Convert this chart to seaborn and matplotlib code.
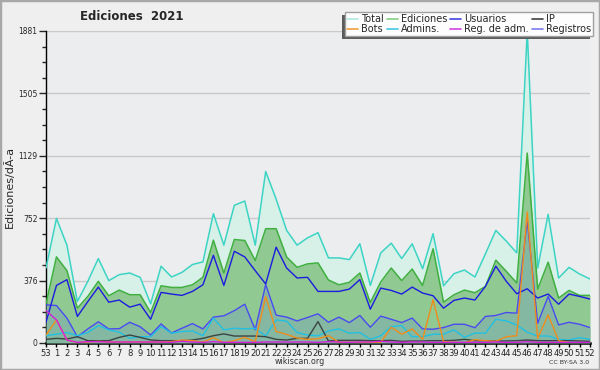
import numpy as np
import pandas as pd
import matplotlib
matplotlib.use('Agg')
import matplotlib.pyplot as plt
import seaborn as sns
from matplotlib.lines import Line2D
from matplotlib.patches import Rectangle

# week labels, 2021 starts with week 53 of 2020
weeks = ['53'] + [str(w) for w in range(1, 53)]

total = [452, 751, 590, 250, 372, 509, 376, 412, 422, 396, 236, 463, 398, 426, 473, 489,
         780, 590, 830, 856, 590, 1034, 867, 679, 590, 634, 665, 513, 513, 503, 598, 347,
         543, 602, 509, 598, 448, 659, 345, 418, 440, 398, 537, 679, 614, 543, 1881, 452,
         776, 392, 456, 416, 386]
ediciones = [236, 519, 436, 210, 281, 372, 285, 319, 291, 291, 184, 345, 335, 335, 351, 396,
             620, 422, 624, 618, 497, 689, 689, 519, 456, 477, 483, 380, 351, 366, 422, 244,
             368, 452, 376, 446, 347, 568, 246, 291, 319, 303, 341, 499, 432, 362, 1145, 325,
             487, 271, 317, 287, 287]
usuarios = [125, 347, 382, 160, 250, 337, 246, 259, 216, 234, 143, 305, 295, 287, 311, 351,
            529, 347, 553, 519, 436, 356, 578, 452, 392, 396, 311, 311, 311, 325, 382, 204,
            331, 317, 295, 337, 301, 285, 210, 257, 271, 259, 341, 463, 372, 297, 327, 271,
            295, 234, 295, 281, 265]
ip = [22, 28, 24, 38, 14, 14, 14, 34, 48, 34, 18, 14, 14, 14, 18, 28,
      44, 55, 42, 42, 42, 38, 22, 18, 28, 28, 129, 12, 16, 16, 16, 14,
      14, 16, 10, 12, 12, 14, 14, 16, 22, 14, 14, 12, 12, 14, 18, 14,
      14, 14, 14, 12, 10]
bots = [48, 139, 18, 2, 6, 10, 6, 6, 6, 6, 6, 6, 8, 18, 14, 6,
        32, 2, 14, 34, 8, 281, 69, 52, 30, 22, 25, 44, 4, 4, 4, 4,
        4, 95, 53, 85, 22, 261, 8, 4, 2, 20, 14, 10, 38, 44, 790, 28,
        170, 14, 2, 2, 2]
admins = [44, 53, 63, 44, 63, 105, 79, 65, 28, 38, 38, 99, 59, 69, 73, 44,
          150, 79, 89, 85, 89, 42, 139, 132, 63, 48, 44, 73, 85, 59, 63, 22,
          44, 99, 105, 38, 38, 53, 53, 79, 34, 60, 59, 143, 133, 109, 65, 42,
          42, 22, 18, 32, 22]
reg_adm = [196, 139, 18, 4, 8, 8, 6, 6, 6, 6, 6, 6, 4, 10, 6, 4,
           8, 4, 4, 4, 4, 6, 6, 6, 6, 6, 4, 8, 6, 4, 6, 6,
           10, 6, 4, 6, 6, 4, 4, 4, 4, 4, 4, 6, 4, 4, 8, 4,
           4, 4, 4, 4, 4]
registros = [230, 226, 150, 38, 85, 128, 85, 86, 125, 98, 48, 115, 60, 89, 117, 85,
             156, 164, 195, 234, 80, 352, 168, 156, 133, 154, 176, 125, 156, 123, 166, 95,
             162, 143, 123, 150, 85, 83, 93, 113, 113, 92, 160, 166, 184, 180, 740, 119,
             281, 109, 125, 113, 93]

ymax = 1881

df = pd.DataFrame({
    'pos': np.arange(len(weeks)),
    'Total': total, 'Ediciones': ediciones, 'Usuarios': usuarios, 'IP': ip,
    'Bots': bots, 'Admins.': admins, 'Reg. de adm.': reg_adm, 'Registros': registros,
})

sns.set_style('white', rc={'axes.facecolor': '#ecedef', 'figure.facecolor': '#efefef'})
plt.rcParams['font.family'] = ['DejaVu Sans']

fig = plt.figure(figsize=(6, 3.7), dpi=100)
ax = fig.add_axes([46 / 600, 27 / 370, 544 / 600, 312 / 370])

# filled areas
ax.fill_between(df['pos'], df['Total'], color='#d7f1e9', lw=0, zorder=1)
ax.fill_between(df['pos'], df['Ediciones'], color='#90c992', lw=0, zorder=2)
ax.fill_between(df['pos'], df['Registros'], color='#84b8a2', lw=0, zorder=3)

line_colors = {
    'Total': ('#3cd4c4', 1.1),
    'Ediciones': ('#3faf3f', 1.1),
    'Registros': ('#4a4af2', 1.0),
    'Usuarios': ('#1c1ce0', 1.0),
    'Admins.': ('#22c0e2', 1.0),
    'IP': ('#3c4444', 1.0),
    'Bots': ('#f08c1c', 1.0),
    'Reg. de adm.': ('#d420dc', 1.0),
}
for z, (name, (col, lw)) in enumerate(line_colors.items()):
    sns.lineplot(data=df, x='pos', y=name, color=col, lw=lw, ax=ax,
                 estimator=None, sort=False, zorder=5 + z)

ax.set_xlim(0, len(weeks) - 1)
ax.set_ylim(0, ymax)
ax.set_xlabel('')
ax.set_ylabel('Ediciones/dÃ-a', fontsize=8)
ax.yaxis.set_label_coords(-0.057, 0.5)

ax.set_xticks(df['pos'])
ax.set_xticklabels(weeks, fontsize=6)
major = np.linspace(0, ymax, 6)
ax.set_yticks(major)
ax.set_yticklabels([f'{v:.0f}' for v in major], fontsize=5.5)
ax.set_yticks(np.linspace(0, ymax, 21), minor=True)
ax.tick_params(axis='x', length=3, width=1, pad=1, color='black', bottom=True)
ax.tick_params(axis='y', which='major', length=5, width=1, pad=1, left=True)
ax.tick_params(axis='y', which='minor', length=3, width=1, left=True)
ax.grid(axis='y', which='major', color='#c9c9c9', lw=1)
ax.grid(axis='x', visible=False)
ax.set_axisbelow(True)

for side in ['top', 'right']:
    ax.spines[side].set_visible(False)
ax.spines['left'].set_color('black')
ax.spines['left'].set_linewidth(1)
ax.spines['bottom'].set_color('black')
ax.spines['bottom'].set_linewidth(1.8)

fig.text(132 / 600, 1 - 16.5 / 370, 'Ediciones  2021', ha='center', va='center',
         fontweight='bold', fontsize=8.5)
fig.text(300 / 600, 1 - 361 / 370, 'wikiscan.org', ha='center', va='center',
         fontsize=5.8, color='#333333')
fig.text(569 / 600, 1 - 362 / 370, 'CC BY-SA 3.0', ha='center', va='center',
         fontsize=4.5, color='#333333')

legend_items = [
    ('Total', '#aee8df'), ('Bots', '#f0a040'),
    ('Ediciones', '#86d086'), ('Admins.', '#44c8e2'),
    ('Usuarios', '#4444e2'), ('Reg. de adm.', '#d444e0'),
    ('IP', '#404040'), ('Registros', '#7c7cf0'),
]
handles = [Line2D([], [], color=c, lw=1.2) for _, c in legend_items]
leg = fig.legend(handles, [n for n, _ in legend_items], ncol=4, loc='upper right',
                 bbox_to_anchor=(593 / 600, 1 - 12 / 370), borderaxespad=0,
                 fontsize=7, handlelength=1.1, handletextpad=0.35, columnspacing=0.3,
                 labelspacing=0.05, borderpad=0.2, frameon=True, fancybox=False,
                 framealpha=1)
leg.get_frame().set_facecolor('#fdfdfd')
leg.get_frame().set_edgecolor('#a0a0a0')
leg.get_frame().set_linewidth(1)
leg.set_zorder(10)

fig.canvas.draw()
bb = leg.get_window_extent()
fig.patches.append(Rectangle((bb.x0 - 3, bb.y0 - 3), bb.width, bb.height, transform=None,
                             facecolor='#5c5c5c', edgecolor='none', zorder=4))
fig.patches.append(Rectangle((0, 0), 1, 1, transform=fig.transFigure, fill=False,
                             edgecolor='#a8a8a8', lw=2.5, zorder=20))

fig.savefig('out.png', dpi=100)
